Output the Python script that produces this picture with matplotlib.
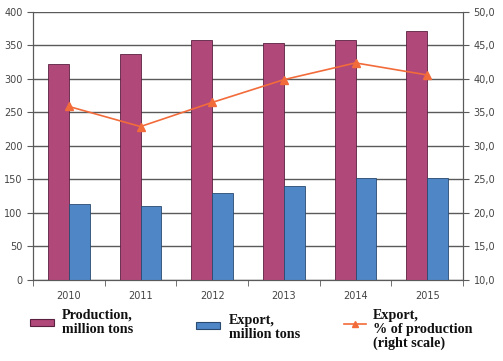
import matplotlib.pyplot as plt
import matplotlib.patches as mpatches
from matplotlib.lines import Line2D
import numpy as np

years = ['2010', '2011', '2012', '2013', '2014', '2015']
production = [322, 337, 358, 353, 358, 372]
export = [114, 110, 130, 141, 152, 152]
export_share = [35.9, 32.9, 36.5, 39.9, 42.4, 40.6]

prod_color = '#B0487A'
exp_color = '#4F86C6'
line_color = '#F26B3A'
grid_color = '#5a5a5a'
tick_color = '#444444'

fig = plt.figure(figsize=(5.03, 3.61), dpi=100)
ax = fig.add_axes([0.0656, 0.2244, 0.855, 0.7424])

x = np.arange(len(years))
w = 0.29
ax.bar(x - w / 2, production, w, color=prod_color, edgecolor='#5a2040', linewidth=0.6, zorder=3)
ax.bar(x + w / 2, export, w, color=exp_color, edgecolor='#2a4a70', linewidth=0.6, zorder=3)

ax.set_xlim(-0.5, len(years) - 0.5)
ax.set_ylim(0, 400)
ax.set_yticks(range(0, 401, 50))
ax.grid(axis='y', color=grid_color, linewidth=1.0, zorder=0)
ax.set_xticks(x)
ax.set_xticklabels(years)
ax.set_xticks(np.arange(-0.5, len(years)), minor=True)
ax.tick_params(axis='x', which='major', length=0, pad=8, labelsize=7, labelcolor=tick_color)
ax.tick_params(axis='x', which='minor', length=4, direction='out', color=grid_color)
ax.tick_params(axis='y', length=4, color=grid_color, labelsize=7, labelcolor=tick_color)
ax.spines['top'].set_visible(False)
for s in ['left', 'right', 'bottom']:
    ax.spines[s].set_color(grid_color)

ax2 = ax.twinx()
ax2.plot(x, export_share, color=line_color, linewidth=1.2, marker='^', markersize=6, zorder=4)
ax2.set_ylim(10, 50)
ax2.set_yticks(np.arange(10, 51, 5))
ax2.set_yticklabels([f'{v:.1f}'.replace('.', ',') for v in np.arange(10, 51, 5)])
ax2.tick_params(axis='y', length=4, color=grid_color, labelsize=7, labelcolor=tick_color)
ax2.spines['top'].set_visible(False)
for s in ['left', 'right', 'bottom']:
    ax2.spines[s].set_color(grid_color)

# legend drawn below the axes
W, H = 503, 361
def fx(px):
    return px / W
def fy(py):
    return 1 - py / H

font = dict(family='Liberation Serif', weight='bold', size=10.2, color='#111111')
fig.patches.append(mpatches.Rectangle((fx(30), fy(326)), fx(24), 7 / H, transform=fig.transFigure,
                                      facecolor=prod_color, edgecolor='#5a2040', linewidth=0.8))
fig.text(fx(62), fy(309), 'Production,\nmillion tons', va='top', ha='left', linespacing=1.1, **font)

fig.patches.append(mpatches.Rectangle((fx(196), fy(329)), fx(24), 7 / H, transform=fig.transFigure,
                                      facecolor=exp_color, edgecolor='#2a4a70', linewidth=0.8))
fig.text(fx(229), fy(314), 'Export,\nmillion tons', va='top', ha='left', linespacing=1.1, **font)

fig.lines.append(Line2D([fx(344), fx(366)], [fy(324), fy(324)], transform=fig.transFigure,
                        color=line_color, linewidth=1.2))
fig.lines.append(Line2D([fx(355)], [fy(324)], transform=fig.transFigure,
                        color=line_color, marker='^', markersize=5))
fig.text(fx(373), fy(309), 'Export,\n% of production\n(right scale)', va='top', ha='left',
         linespacing=1.05, **font)

fig.savefig('out.png', dpi=100)
